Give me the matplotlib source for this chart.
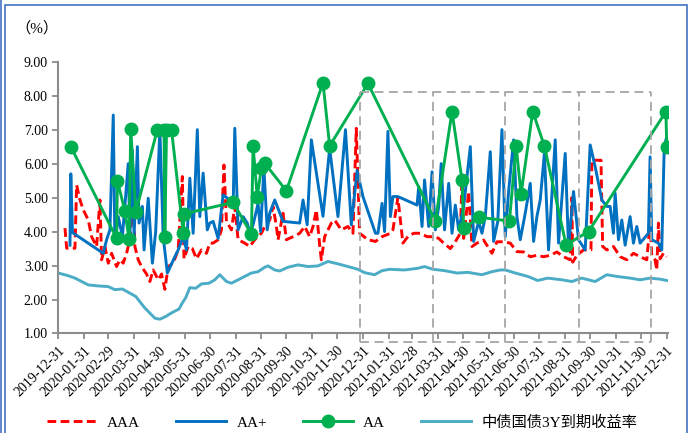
import pandas as pd
import matplotlib
matplotlib.use('Agg')
import matplotlib.pyplot as plt
from matplotlib.lines import Line2D

plt.rcParams['font.family'] = ['Liberation Serif', 'Noto Sans CJK SC']

start = pd.Timestamp('2019-12-31')

# AAA 信用利差（天数自2019-12-31起）
aaa_day = [8, 10, 20, 22, 26, 30, 36, 40, 46, 50, 52, 56, 60, 64, 70, 74, 78, 82, 86, 90,
           92, 96, 100, 106, 110, 114, 120, 124, 128, 132, 138, 144, 149, 151, 156, 161, 166, 172, 178, 182,
           186, 192, 196, 199, 202, 208, 212, 216, 224, 230, 236, 244, 248, 254, 258, 262, 264, 270, 274, 282,
           290, 296, 302, 306, 310, 314, 316, 320, 328, 332, 340, 348, 354, 358, 362, 372, 381, 389, 399, 402,
           408, 414, 420, 427, 435, 443, 451, 457, 463, 471, 477, 483, 485, 487, 493, 497, 503, 511, 521, 527,
           535, 543, 551, 559, 567, 575, 583, 591, 599, 607, 615, 617, 618, 623, 631, 640, 641, 652, 654, 659,
           667, 675, 683, 691, 699, 707, 711, 713, 717, 719, 721, 723, 727, 731]
aaa_val = [4.10, 3.51, 3.51, 5.37, 4.93, 4.64, 4.34, 3.85, 3.56, 4.93, 3.17, 3.56, 3.07, 3.36, 2.97, 3.17, 3.07, 3.36, 3.76, 5.03,
           3.56, 3.17, 2.97, 2.75, 2.53, 2.87, 2.58, 2.75, 2.30, 2.97, 3.07, 3.46, 5.62, 3.20, 3.56, 3.50, 3.20, 3.46, 3.36, 3.66,
           3.66, 3.76, 4.05, 5.96, 4.30, 4.05, 4.74, 3.76, 3.66, 3.56, 3.76, 3.95, 4.15, 4.34, 4.74, 4.15, 3.76, 4.54, 3.76, 3.85,
           3.95, 4.15, 3.85, 4.15, 4.64, 3.60, 3.17, 3.85, 4.25, 4.34, 4.05, 4.15, 3.95, 7.04, 3.95, 3.76, 3.71, 3.85, 3.95, 4.05,
           5.00, 3.66, 3.85, 3.95, 3.95, 3.85, 3.85, 3.80, 3.66, 3.50, 3.70, 3.95, 5.52, 3.80, 5.18, 3.56, 3.66, 3.75, 3.36, 3.70,
           3.70, 3.66, 3.41, 3.40, 3.26, 3.30, 3.26, 3.30, 3.40, 3.26, 3.17, 5.00, 3.10, 3.30, 3.46, 3.46, 6.10, 6.10, 3.56, 3.46,
           3.56, 3.26, 3.17, 3.36, 3.26, 3.17, 4.25, 3.30, 3.17, 2.87, 4.25, 3.20, 3.36, 3.26]

# AA+
aap_day = [14, 15, 17, 48, 54, 58, 62, 66, 68, 72, 77, 84, 86, 89, 91, 95, 97, 101, 103, 108,
           113, 117, 122, 126, 131, 140, 144, 150, 154, 158, 162, 167, 170, 174, 179, 182, 186, 192, 198, 206,
           210, 212, 216, 222, 227, 230, 234, 240, 243, 247, 251, 254, 260, 270, 290, 294, 299, 304, 318, 326,
           336, 345, 352, 359, 366, 381, 384, 389, 392, 396, 399, 402, 408, 431, 433, 437, 440, 445, 449, 453,
           457, 460, 464, 469, 473, 477, 481, 487, 495, 499, 505, 509, 513, 519, 523, 528, 533, 537, 541, 547,
           551, 555, 561, 567, 571, 575, 579, 584, 589, 597, 601, 609, 613, 619, 625, 633, 639, 645, 653, 659,
           663, 667, 669, 673, 677, 681, 687, 691, 695, 699, 709, 711, 713, 721, 725, 728, 731]
aap_val = [3.60, 5.70, 3.97, 3.46, 3.36, 3.76, 4.05, 7.43, 3.66, 4.44, 3.85, 6.00, 3.85, 6.40, 3.85, 6.50, 4.25, 4.74, 3.46, 4.98,
           3.07, 4.00, 7.00, 3.85, 2.78, 3.26, 3.46, 3.85, 3.46, 5.57, 3.95, 7.00, 4.44, 5.72, 4.05, 4.25, 4.30, 3.80, 5.08, 4.93,
           4.74, 7.04, 4.05, 4.44, 4.25, 3.95, 4.20, 4.83, 4.00, 5.86, 4.05, 4.54, 4.93, 4.30, 4.25, 4.93, 4.20, 6.70, 4.45, 6.45,
           4.44, 7.00, 4.20, 5.80, 5.03, 3.95, 3.95, 4.83, 4.00, 6.95, 4.44, 5.03, 5.03, 4.78, 5.32, 4.15, 5.52, 4.15, 5.76, 4.05,
           4.74, 6.00, 4.05, 5.42, 3.95, 4.78, 4.05, 4.74, 6.50, 3.71, 4.30, 3.95, 4.44, 6.35, 3.71, 4.30, 7.00, 3.85, 5.18, 6.70,
           4.44, 3.76, 4.54, 5.42, 3.71, 4.44, 4.93, 6.30, 3.46, 6.70, 3.66, 6.30, 3.56, 5.18, 3.76, 3.46, 6.55, 5.91, 4.93, 4.74,
           4.74, 3.95, 5.13, 3.76, 4.34, 3.60, 4.44, 3.66, 4.15, 3.66, 3.95, 6.20, 3.76, 3.66, 3.46, 6.50, 6.80]

# AA
aa_day = [15, 70, 71, 80, 85, 87, 93, 119, 127, 128, 130, 136, 150, 151, 210, 232, 234, 239, 244, 248,
          274, 318, 326, 372, 453, 473, 485, 487, 506, 542, 550, 556, 570, 584, 610, 637, 730, 731]
aa_val = [6.50, 3.80, 5.50, 4.60, 3.78, 7.03, 4.57, 7.00, 7.00, 3.85, 7.00, 7.00, 3.96, 4.52, 4.86, 3.92, 6.52, 5.03, 5.86, 6.01,
          5.20, 8.38, 6.52, 8.36, 4.31, 7.53, 5.52, 4.10, 4.42, 4.31, 6.52, 5.11, 7.53, 6.52, 3.61, 4.00, 7.53, 6.50]

# 中债国债3Y到期收益率
gov_day = [0, 12, 20, 36, 48, 60, 68, 77, 93, 104, 116, 122, 129, 137, 145, 149, 153, 158, 165, 172,
           181, 188, 194, 202, 208, 216, 224, 232, 240, 248, 252, 260, 266, 276, 288, 300, 312, 324, 336, 348,
           360, 368, 380, 389, 398, 416, 432, 440, 450, 464, 479, 492, 509, 521, 531, 537, 549, 564, 576, 588,
           605, 617, 629, 645, 659, 671, 687, 699, 711, 723, 731]
gov_val = [2.78, 2.70, 2.63, 2.43, 2.40, 2.38, 2.29, 2.31, 2.09, 1.75, 1.45, 1.42, 1.50, 1.62, 1.72, 1.90, 2.05, 2.35, 2.33, 2.46,
           2.48, 2.58, 2.73, 2.53, 2.48, 2.58, 2.68, 2.78, 2.82, 2.95, 2.99, 2.87, 2.84, 2.95, 3.02, 2.97, 2.99, 3.12, 3.05, 2.97,
           2.89, 2.79, 2.73, 2.85, 2.89, 2.87, 2.92, 2.97, 2.89, 2.85, 2.78, 2.80, 2.73, 2.82, 2.87, 2.87, 2.78, 2.68, 2.56, 2.63,
           2.58, 2.53, 2.63, 2.53, 2.73, 2.68, 2.63, 2.58, 2.63, 2.60, 2.56]

# 虚线框边界
box_edges = ['2020-12-28', '2021-03-25', '2021-06-20', '2021-09-16', '2021-12-12']
box_top, box_bottom = 8.1, 0.76


def to_dates(days):
    return [start + pd.Timedelta(days=d) for d in days]


fig = plt.figure(figsize=(6.91, 4.33), dpi=100)
ax = fig.add_axes([0.0844, 0.2298, 0.8829, 0.6277])

ax.plot(to_dates(aaa_day), aaa_val, color='#FF0000', lw=2.1, ls=(0, (3, 1.5)), label='AAA')
ax.plot(to_dates(aap_day), aap_val, color='#0070C0', lw=2.1, label='AA+')
ax.plot(to_dates(aa_day), aa_val, color='#00B050', lw=2.1, marker='o', ms=9, label='AA')
ax.plot(to_dates(gov_day), gov_val, color='#4BACC6', lw=2.1, label='中债国债3Y到期收益率')

# 虚线框
edges = pd.to_datetime(box_edges)
for e in edges:
    ax.plot([e, e], [box_bottom, box_top], color='#A6A6A6', lw=1.3, ls=(0, (5, 3)), clip_on=False)
for yy in (box_top, box_bottom):
    ax.plot([edges[0], edges[-1]], [yy, yy], color='#A6A6A6', lw=1.3, ls=(0, (5, 3)), clip_on=False)

ax.set_xlim(start, start + pd.Timedelta(days=733))
ax.set_ylim(1, 9)
ax.set_yticks(range(1, 10))
ax.set_yticklabels(['%.2f' % v for v in range(1, 10)], fontsize=10)
ticks = pd.date_range(start, '2021-12-31', freq='ME')
ax.set_xticks(ticks)
ax.set_xticklabels([t.strftime('%Y-%m-%d') for t in ticks], rotation=45, ha='right',
                   rotation_mode='anchor', fontsize=10)
for s in ('top', 'right'):
    ax.spines[s].set_visible(False)
for s in ('left', 'bottom'):
    ax.spines[s].set_color('#8C8C8C')
    ax.spines[s].set_linewidth(1.5)
ax.tick_params(colors='#8C8C8C', width=1.3, length=4, labelcolor='black')

fig.text(0.022, 0.925, '（%）', fontsize=11)

fig.legend(loc='lower center', bbox_to_anchor=(0.495, -0.024), ncol=4, frameon=False,
           fontsize=11, handlelength=3.3, handletextpad=0.65, columnspacing=2.35)

# 外框
fig.add_artist(plt.Rectangle((0.007, -0.02), 0.987, 1.008, transform=fig.transFigure,
                             fill=False, edgecolor='#4472C4', lw=1.2))
fig.add_artist(Line2D([0.0015, 0.0015], [0, 1], transform=fig.transFigure, color='#4472C4', lw=1.2))

fig.savefig('out.png', dpi=100)
